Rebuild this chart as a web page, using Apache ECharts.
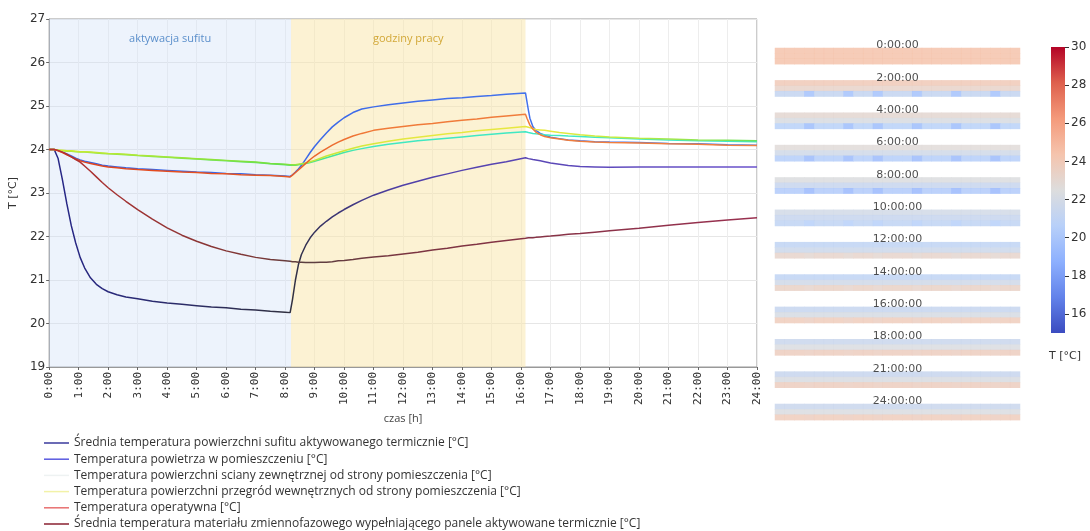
<!DOCTYPE html>
<html>
<head>
<meta charset="utf-8">
<script src="https://cdn.jsdelivr.net/npm/echarts@6/dist/echarts.min.js"></script>
<style>
  html, body { margin: 0; padding: 0; background: #ffffff; }
  #chart { width: 1090px; height: 531px; }
</style>
</head>
<body>
<div id="chart"></div>
<script>
// Time of day [h]
const hours = [
  0, 0.17, 0.3, 0.45, 0.6, 0.75, 0.9, 1.05, 1.2, 1.4,
  1.6, 1.8, 2.0, 2.3, 2.6, 3.0, 3.5, 4, 4.5, 5,
  5.5, 6, 6.5, 7, 7.5, 8, 8.17, 8.25, 8.35, 8.45,
  8.55, 8.7, 8.85, 9.0, 9.2, 9.4, 9.6, 9.8, 10.0, 10.3,
  10.6, 11.0, 11.5, 12, 12.5, 13, 13.5, 14, 14.5, 15,
  15.5, 16.15, 16.2, 16.25, 16.3, 16.4, 16.5, 16.65, 16.8, 17,
  17.3, 17.6, 18, 18.5, 19, 20, 21, 22, 23, 24];

// Temperatures [°C]
const ceilingSurface = [
  24, 24, 23.8, 23.3, 22.75, 22.25, 21.85, 21.52, 21.28, 21.05,
  20.9, 20.8, 20.73, 20.66, 20.61, 20.57, 20.51, 20.47, 20.44, 20.41,
  20.38, 20.36, 20.33, 20.31, 20.28, 20.26, 20.25, 20.55, 21.0, 21.35,
  21.58, 21.8, 21.97, 22.1, 22.24, 22.35, 22.45, 22.54, 22.62, 22.73,
  22.83, 22.95, 23.07, 23.18, 23.27, 23.36, 23.44, 23.52, 23.59, 23.66,
  23.72, 23.81, 23.8, 23.79, 23.78, 23.77, 23.76, 23.74, 23.72, 23.69,
  23.66, 23.63, 23.61, 23.6, 23.59, 23.6, 23.6, 23.6, 23.6, 23.6];
const roomAir = [
  24, 24, 23.98, 23.94, 23.9, 23.85, 23.8, 23.76, 23.73, 23.7,
  23.67, 23.64, 23.62, 23.6, 23.58, 23.56, 23.54, 23.52, 23.5, 23.48,
  23.47, 23.45, 23.44, 23.42, 23.41, 23.39, 23.38, 23.42, 23.48, 23.55,
  23.63, 23.78, 23.93, 24.07, 24.23, 24.38, 24.52, 24.63, 24.73, 24.85,
  24.93, 24.98, 25.03, 25.07, 25.11, 25.14, 25.17, 25.19, 25.22, 25.24,
  25.27, 25.3, 25.1, 24.9, 24.72, 24.53, 24.44, 24.37, 24.33, 24.28,
  24.25, 24.22, 24.2, 24.18, 24.17, 24.16, 24.14, 24.13, 24.11, 24.1];
const outerWall = [
  24, 24, 23.98, 23.97, 23.96, 23.96, 23.95, 23.94, 23.94, 23.93,
  23.92, 23.91, 23.9, 23.89, 23.88, 23.86, 23.84, 23.82, 23.8, 23.78,
  23.76, 23.74, 23.72, 23.7, 23.67, 23.65, 23.64, 23.64, 23.64, 23.65,
  23.66, 23.68, 23.7, 23.73, 23.77, 23.81, 23.85, 23.89, 23.93, 23.98,
  24.02, 24.07, 24.12, 24.16, 24.2, 24.23, 24.26, 24.29, 24.32, 24.35,
  24.38, 24.41, 24.4, 24.39, 24.38, 24.37, 24.36, 24.35, 24.34, 24.33,
  24.32, 24.31, 24.3, 24.28, 24.27, 24.24, 24.22, 24.2, 24.19, 24.18];
const innerPartitions = [
  24, 24, 23.99, 23.98, 23.97, 23.97, 23.96, 23.95, 23.95, 23.94,
  23.93, 23.92, 23.91, 23.9, 23.89, 23.87, 23.85, 23.83, 23.81, 23.79,
  23.77, 23.75, 23.73, 23.71, 23.68, 23.66, 23.65, 23.65, 23.65, 23.66,
  23.67, 23.69, 23.72, 23.75, 23.8, 23.85, 23.89, 23.93, 23.97, 24.03,
  24.08, 24.13, 24.19, 24.24, 24.28, 24.32, 24.36, 24.39, 24.43, 24.46,
  24.49, 24.53, 24.52, 24.51, 24.5, 24.48, 24.46, 24.45, 24.44, 24.42,
  24.39, 24.37, 24.34, 24.31, 24.29, 24.26, 24.24, 24.22, 24.21, 24.2];
const operative = [
  24, 24, 23.97, 23.93, 23.88, 23.83, 23.78, 23.74, 23.71, 23.68,
  23.65, 23.62, 23.6, 23.58, 23.56, 23.54, 23.52, 23.5, 23.48, 23.47,
  23.45, 23.44, 23.42, 23.41, 23.4, 23.38, 23.37, 23.41, 23.47, 23.53,
  23.59, 23.68, 23.77, 23.85, 23.94, 24.02, 24.1, 24.17, 24.23, 24.31,
  24.37, 24.44, 24.49, 24.53, 24.57, 24.6, 24.64, 24.67, 24.7, 24.74,
  24.77, 24.81, 24.72, 24.64, 24.56, 24.47, 24.4, 24.34, 24.3, 24.27,
  24.24, 24.21, 24.19, 24.17, 24.16, 24.15, 24.13, 24.12, 24.1, 24.09];
const pcmMaterial = [
  24, 24, 23.98, 23.94, 23.89, 23.83, 23.77, 23.71, 23.62, 23.5,
  23.37, 23.24, 23.12, 22.96, 22.81, 22.62, 22.4, 22.2, 22.03, 21.89,
  21.77, 21.67, 21.59, 21.52, 21.47, 21.44, 21.43, 21.42, 21.42, 21.41,
  21.41, 21.4, 21.4, 21.4, 21.41, 21.41, 21.42, 21.44, 21.45, 21.47,
  21.5, 21.53, 21.56, 21.6, 21.64, 21.69, 21.73, 21.78, 21.82, 21.87,
  21.91, 21.96, 21.96, 21.97, 21.97, 21.97, 21.98, 21.99, 22.0, 22.01,
  22.03, 22.05, 22.07, 22.1, 22.13, 22.19, 22.26, 22.32, 22.38, 22.43];

const seriesNames = [
  'Średnia temperatura powierzchni sufitu aktywowanego termicznie [°C]',
  'Temperatura powietrza w pomieszczeniu [°C]',
  'Temperatura powierzchni sciany zewnętrznej od strony pomieszczenia [°C]',
  'Temperatura powierzchni przegród wewnętrznych od strony pomieszczenia [°C]',
  'Temperatura operatywna [°C]',
  'Średnia temperatura materiału zmiennofazowego wypełniającego panele aktywowane termicznie [°C]'
];

// Periods [h]
const ceilingActivation = [0, 8.2];
const workingHours = [8.2, 16.15];
const periodLabels = ['aktywacja sufitu', 'godziny pracy'];

// Axis ranges
const yRange = [19, 27];
const xRange = [0, 24];

// Temperature field snapshots (rows: top, middle, bottom; pipe spots in bottom row)
const snapshotLabels = ['0:00:00', '2:00:00', '4:00:00', '6:00:00', '8:00:00', '10:00:00',
  '12:00:00', '14:00:00', '16:00:00', '18:00:00', '21:00:00', '24:00:00'];
const fieldTop    = [24.4, 24.0, 23.0, 22.7, 22.4, 21.9, 21.0, 21.0, 21.3, 21.5, 21.4, 21.5];
const fieldMiddle = [24.4, 23.3, 22.2, 21.8, 21.4, 21.4, 21.6, 21.8, 22.1, 22.3, 22.2, 22.3];
const fieldBottom = [24.4, 21.2, 20.7, 20.5, 20.3, 21.0, 23.2, 23.4, 23.8, 23.7, 23.7, 23.8];
const fieldPipes  = [24.4, 19.8, 19.5, 19.4, 19.3, 20.6, 23.0, 23.2, 23.6, 23.6, 23.6, 23.7];
const pipeColumns = [3, 7, 10, 14, 18, 22];
const fieldColumns = 25;
const colorbarRange = [15, 30];
const colorbarTicks = [16, 18, 20, 22, 24, 26, 28, 30];

// coolwarm colour map
const coolwarm = ['#3b4cc0', '#6282ea', '#8db0fe', '#b8d0f9', '#dddddd', '#f5c4ad', '#f49a7b', '#de604d', '#b40426'];

const pairs = arr => hours.map((h, i) => [h, arr[i]]);
const grad = stops => new echarts.graphic.LinearGradient(0, 0, 1, 0,
  stops.map(s => ({ offset: s[0], color: s[1] })));

const lineColors = [
  grad([[0, '#26268a'], [0.2, '#2c2c66'], [0.34, '#30303f'], [0.4, '#3a3470'], [0.5, '#5040a8'], [1, '#6a52cc']]),
  grad([[0, '#3560e0'], [0.4, '#3d6ae8'], [1, '#4a7cf0']]),
  grad([[0, '#9ee840'], [0.34, '#50e070'], [0.45, '#40e8c0'], [1, '#40e8c8']]),
  grad([[0, '#d4ec30'], [0.33, '#70e040'], [0.37, '#c0e838'], [0.5, '#e4e840'], [0.7, '#e8e840'], [0.8, '#c4ec40'], [1, '#6ae060']]),
  grad([[0, '#e0401c'], [0.34, '#e85a24'], [0.45, '#f07a38'], [1, '#f08040']]),
  grad([[0, '#b83030'], [0.3, '#7a3838'], [0.36, '#5a4040'], [0.5, '#7a3540'], [1, '#9a3050']])
];
const legendColors = ['#3a3a9c', '#5a5ae0', '#eef2f2', '#f2f2a8', '#e87070', '#8a2030'];
const seriesData = [ceilingSurface, roomAir, outerWall, innerPartitions, operative, pcmMaterial];

const lineSeries = seriesData.map((arr, i) => ({
  name: seriesNames[i],
  type: 'line',
  xAxisIndex: 0,
  yAxisIndex: 0,
  data: pairs(arr),
  symbol: 'none',
  smooth: false,
  z: 3 + i,
  lineStyle: { width: 1.5, color: lineColors[i] },
  itemStyle: { color: legendColors[i] }
}));

// shaded periods drawn under the lines
lineSeries[0].markArea = {
  silent: true,
  data: [
    [{ xAxis: ceilingActivation[0], name: periodLabels[0],
       itemStyle: { color: '#cfe0f7', opacity: 0.38 },
       label: { color: '#5b8fcb' } },
     { xAxis: ceilingActivation[1] }],
    [{ xAxis: workingHours[0], name: periodLabels[1],
       itemStyle: { color: '#f9e6a8', opacity: 0.5 },
       label: { color: '#d2a838' } },
     { xAxis: workingHours[1] }]
  ],
  label: { show: true, position: 'insideTop', distance: 14, fontFamily: 'Open Sans', fontSize: 11 }
};

// temperature field cells
const rowsPerBlock = 6;
const heatData = [];
snapshotLabels.forEach((lab, b) => {
  const rowVals = [fieldTop[b], fieldMiddle[b], fieldBottom[b]];
  for (let r = 0; r < 3; r++) {
    for (let c = 0; c < fieldColumns; c++) {
      let v = rowVals[r];
      if (r === 2 && pipeColumns.includes(c)) v = fieldPipes[b];
      heatData.push([c, b * rowsPerBlock + 3 + r, v]);
    }
  }
});
const labelData = snapshotLabels.map((lab, b) => ({ value: [(fieldColumns - 1) / 2, b * rowsPerBlock + 2], name: lab }));

const rowCount = snapshotLabels.length * rowsPerBlock;
const rowH = 32.36 / rowsPerBlock;

const chart = echarts.init(document.getElementById('chart'));
chart.setOption({
  animation: false,
  backgroundColor: '#ffffff',
  grid: [
    { left: 45, right: 333, top: 19, bottom: 164, show: true, borderColor: '#999', borderWidth: 1, backgroundColor: '#ffffff' },
    { left: 775, width: 245, top: 48 - 3 * rowH, height: rowCount * rowH },
    { left: 1051, width: 14, top: 47, height: 286 }
  ],
  legend: {
    orient: 'vertical',
    left: 39,
    top: 431,
    height: 100,
    icon: 'rect',
    itemWidth: 25,
    itemHeight: 1.5,
    itemGap: 2.2,
    textStyle: { fontFamily: 'Open Sans', fontSize: 12, lineHeight: 14, color: '#333' },
    data: seriesNames.map((n, i) => ({
      name: n,
      itemStyle: { color: legendColors[i] }
    }))
  },
  visualMap: {
    type: 'continuous',
    show: false,
    seriesIndex: 6,
    min: colorbarRange[0],
    max: colorbarRange[1],
    inRange: { color: coolwarm }
  },
  xAxis: [
    {
      gridIndex: 0, type: 'value', min: xRange[0], max: xRange[1], interval: 1,
      name: 'czas [h]', nameLocation: 'middle', nameGap: 34,
      nameTextStyle: { fontFamily: 'Open Sans', fontSize: 11, color: '#444' },
      axisLine: { lineStyle: { color: '#999' } },
      axisTick: { show: true, length: 3, lineStyle: { color: '#666' } },
      axisLabel: { rotate: 90, fontFamily: 'DejaVu Sans Mono', fontSize: 11, color: '#333', margin: 5,
        formatter: v => Math.round(v) + ':00' },
      splitLine: { show: true, lineStyle: { color: '#ededed' } }
    },
    { gridIndex: 1, type: 'category', data: Array.from({ length: fieldColumns }, (_, i) => i), show: false },
    { gridIndex: 2, type: 'category', data: ['T'], show: false }
  ],
  yAxis: [
    {
      gridIndex: 0, type: 'value', min: yRange[0], max: yRange[1], interval: 1,
      name: 'T [°C]', nameLocation: 'middle', nameGap: 25,
      nameTextStyle: { fontFamily: 'DejaVu Sans', fontSize: 11, color: '#333' },
      axisLine: { show: true, lineStyle: { color: '#999' } },
      axisTick: { show: true, length: 3, lineStyle: { color: '#666' } },
      axisLabel: { fontFamily: 'DejaVu Sans', fontSize: 12, color: '#333', margin: 4 },
      splitLine: { show: true, lineStyle: { color: '#e6e6e6' } }
    },
    { gridIndex: 1, type: 'category', inverse: true, data: Array.from({ length: rowCount }, (_, i) => i), show: false },
    {
      gridIndex: 2, type: 'value', position: 'right', min: colorbarRange[0], max: colorbarRange[1],
      name: 'T [°C]', nameLocation: 'start', nameGap: 18,
      nameTextStyle: { fontFamily: 'DejaVu Sans', fontSize: 11, color: '#333', align: 'center' },
      axisLine: { show: false },
      axisTick: { show: true, length: 4, inside: false, customValues: colorbarTicks, lineStyle: { color: '#333' } },
      axisLabel: { customValues: colorbarTicks, fontFamily: 'DejaVu Sans', fontSize: 12, color: '#333', margin: 6 },
      splitLine: { show: false }
    }
  ],
  series: [
    ...lineSeries,
    {
      type: 'heatmap',
      xAxisIndex: 1,
      yAxisIndex: 1,
      data: heatData,
      silent: true,
      itemStyle: { borderWidth: 0, opacity: 0.85 },
      emphasis: { disabled: true }
    },
    {
      type: 'scatter',
      xAxisIndex: 1,
      yAxisIndex: 1,
      data: labelData,
      symbolSize: 0,
      silent: true,
      label: { show: true, position: 'inside', formatter: p => p.name,
        fontFamily: 'DejaVu Sans', fontSize: 11, color: '#222' }
    },
    {
      type: 'custom',
      xAxisIndex: 2,
      yAxisIndex: 2,
      silent: true,
      data: [[0, colorbarRange[1]]],
      renderItem: (params, api) => {
        const top = api.coord([0, colorbarRange[1]]);
        const bot = api.coord([0, colorbarRange[0]]);
        const w = api.size([1, 0])[0];
        return {
          type: 'rect',
          shape: { x: top[0] - w / 2, y: top[1], width: w, height: bot[1] - top[1] },
          style: {
            fill: new echarts.graphic.LinearGradient(0, 1, 0, 0,
              coolwarm.map((c, i) => ({ offset: i / (coolwarm.length - 1), color: c })))
          }
        };
      }
    }
  ]
});
</script>
</body>
</html>
